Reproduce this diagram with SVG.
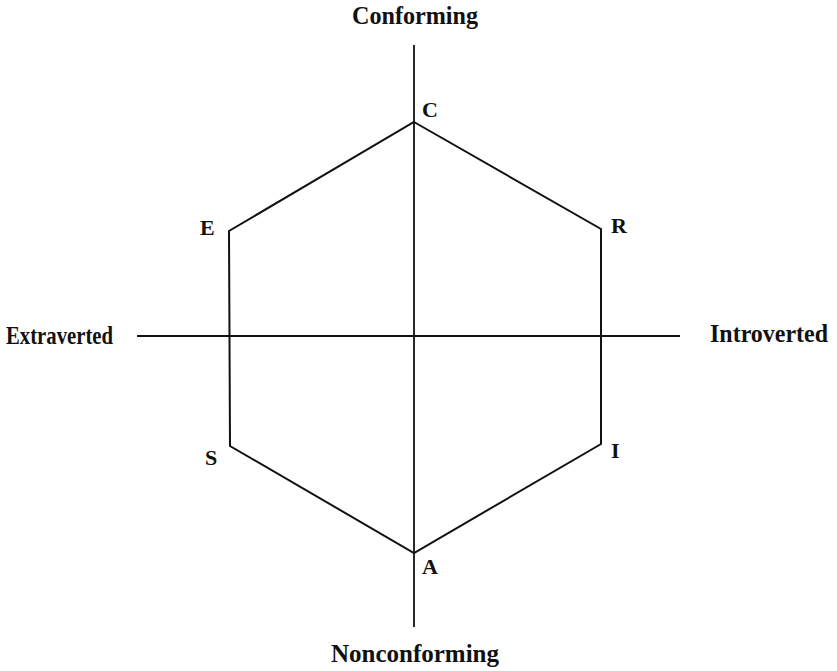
<svg xmlns="http://www.w3.org/2000/svg" width="837" height="671" viewBox="0 0 837 671">
  <style>
    .axis { stroke: #111; stroke-width: 1.8; fill: none; }
    .hex { stroke: #111; stroke-width: 2; fill: none; stroke-linejoin: miter; }
    .pole { font-family: "Liberation Serif", "DejaVu Serif", serif; font-size: 25px; font-weight: bold; fill: #111; }
    .vtx { font-family: "Liberation Serif", "DejaVu Serif", serif; font-size: 22px; font-weight: bold; fill: #111; }
  </style>
  <rect width="837" height="671" fill="#fff"/>

  <!-- axes and hexagon outline -->
  <g id="connectors">
    <line class="axis" x1="414" y1="45" x2="414" y2="627"/>
    <line class="axis" x1="137" y1="336" x2="680" y2="336"/>
    <polygon class="hex" points="414,122 601,229 601,444 414,553 230,446 229,231"/>
  </g>

  <!-- axis poles -->
  <g id="conforming"><text class="pole" x="352" y="24" textLength="126" lengthAdjust="spacingAndGlyphs">Conforming</text></g>
  <g id="nonconforming"><text class="pole" x="331" y="662" textLength="168" lengthAdjust="spacingAndGlyphs">Nonconforming</text></g>
  <g id="extraverted"><text class="pole" x="6" y="344" textLength="107" lengthAdjust="spacingAndGlyphs">Extraverted</text></g>
  <g id="introverted"><text class="pole" x="710" y="342" textLength="118" lengthAdjust="spacingAndGlyphs">Introverted</text></g>

  <!-- hexagon vertices -->
  <g id="C"><text class="vtx" x="422" y="117">C</text></g>
  <g id="R"><text class="vtx" x="611" y="233">R</text></g>
  <g id="I"><text class="vtx" x="611" y="458">I</text></g>
  <g id="A"><text class="vtx" x="422" y="574">A</text></g>
  <g id="S"><text class="vtx" x="205" y="465">S</text></g>
  <g id="E"><text class="vtx" x="200" y="235">E</text></g>
</svg>
